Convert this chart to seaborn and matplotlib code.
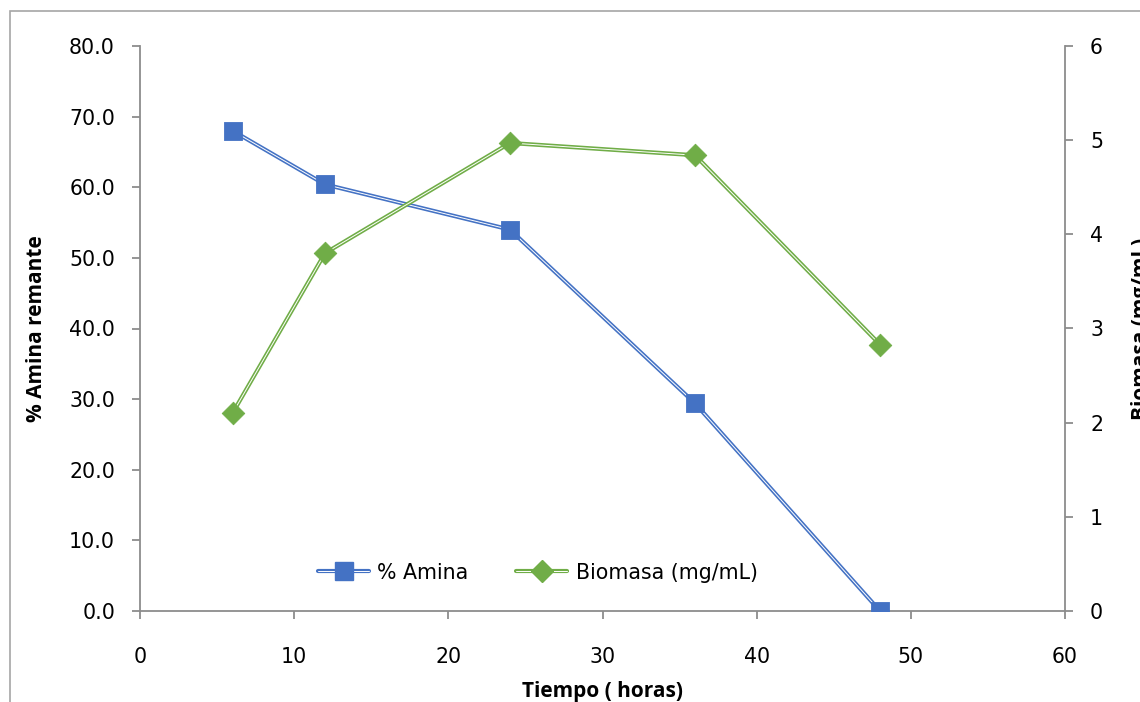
import matplotlib
matplotlib.use("Agg")
import matplotlib.pyplot as plt
import seaborn as sns
import pandas as pd
from matplotlib.lines import Line2D
from matplotlib.legend_handler import HandlerTuple
from matplotlib.patches import Rectangle
from matplotlib.ticker import FormatStrFormatter, MultipleLocator

# Data
tiempo = [6, 12, 24, 36, 48]
amina = [68.0, 60.4, 54.0, 29.4, 0.0]
biomasa = [2.10, 3.80, 4.97, 4.84, 2.83]

df = pd.DataFrame({"Tiempo": tiempo, "Amina": amina, "Biomasa": biomasa})

sns.set_theme(style="white")
plt.rcParams["font.family"] = ["DejaVu Sans"]
plt.rcParams["text.color"] = "black"
plt.rcParams["axes.labelcolor"] = "black"

BLUE = "#4472C4"
GREEN = "#70AD47"
GRAY = "#8c8c8c"
TICK_FS = 14.8
LABEL_FONT = ["Open Sans", "DejaVu Sans"]
LABEL_FS = 15.0

fig = plt.figure(figsize=(11.4, 7.02), dpi=100)
ax = fig.add_axes([140 / 1140, 1 - 611 / 702, (1065 - 140) / 1140, (611 - 46) / 702])
ax2 = ax.twinx()

# outer chart frame
fig.patches.append(Rectangle((10 / 1140, -0.2), 1.2, 1 - 11 / 702 + 0.2,
                             transform=fig.transFigure, fill=False,
                             edgecolor="#a6a6a6", linewidth=1.2, zorder=0))


def double_line(axis, y, color, marker, ms):
    sns.lineplot(data=df, x="Tiempo", y=y, ax=axis, color=color, linewidth=3.0,
                 legend=False, zorder=2)
    sns.lineplot(data=df, x="Tiempo", y=y, ax=axis, color="white", linewidth=0.7,
                 legend=False, zorder=3)
    sns.scatterplot(data=df, x="Tiempo", y=y, ax=axis, color=color, marker=marker,
                    s=ms ** 2, edgecolor=color, linewidth=0.6, legend=False, zorder=4)


double_line(ax, "Amina", BLUE, "s", 13)
double_line(ax2, "Biomasa", GREEN, "D", 11.5)

ax.set_xlim(0, 60)
ax.set_ylim(0, 80)
ax2.set_ylim(0, 6)
ax.xaxis.set_major_locator(MultipleLocator(10))
ax.yaxis.set_major_locator(MultipleLocator(10))
ax2.yaxis.set_major_locator(MultipleLocator(1))
ax.yaxis.set_major_formatter(FormatStrFormatter("%.1f"))

for a in (ax, ax2):
    for s in a.spines.values():
        s.set_visible(False)
ax.spines["left"].set_visible(True)
ax.spines["bottom"].set_visible(True)
ax2.spines["right"].set_visible(True)
for s in (ax.spines["left"], ax.spines["bottom"], ax2.spines["right"]):
    s.set_color(GRAY)
    s.set_linewidth(1.3)

ax.tick_params(axis="both", which="major", direction="out", length=6, width=1.3,
               color=GRAY, labelsize=TICK_FS, labelcolor="black", pad=12,
               left=True, bottom=True)
ax.tick_params(axis="x", pad=20)
ax2.tick_params(axis="y", direction="out", length=6, width=1.3, color=GRAY,
                labelsize=TICK_FS, labelcolor="black", pad=12, right=True)

ax.set_xlabel("Tiempo ( horas)", fontsize=LABEL_FS, fontweight="bold", labelpad=10,
              family=LABEL_FONT, color="black")
ax.set_ylabel("% Amina remante", fontsize=LABEL_FS, fontweight="bold", labelpad=16,
              family=LABEL_FONT, color="black")
ax2.set_ylabel("Biomasa (mg/mL)", fontsize=LABEL_FS, fontweight="bold", labelpad=20,
               family=LABEL_FONT, color="black")

# legend with double-line handles
h1 = (Line2D([], [], color=BLUE, lw=3.0), Line2D([], [], color="white", lw=0.7),
      Line2D([], [], ls="none", marker="s", ms=13, color=BLUE))
h2 = (Line2D([], [], color=GREEN, lw=3.0), Line2D([], [], color="white", lw=0.7),
      Line2D([], [], ls="none", marker="D", ms=11, color=GREEN))
leg = ax.legend([h1, h2], ["% Amina", "Biomasa (mg/mL)"],
                handler_map={tuple: HandlerTuple(ndivide=1)},
                loc="center", bbox_to_anchor=(0.43, 0.068), ncol=2, frameon=False,
                fontsize=TICK_FS, handlelength=2.5, columnspacing=2.3, handletextpad=0.4,
                labelcolor="black")

fig.savefig("out.png", dpi=100, facecolor="white")
